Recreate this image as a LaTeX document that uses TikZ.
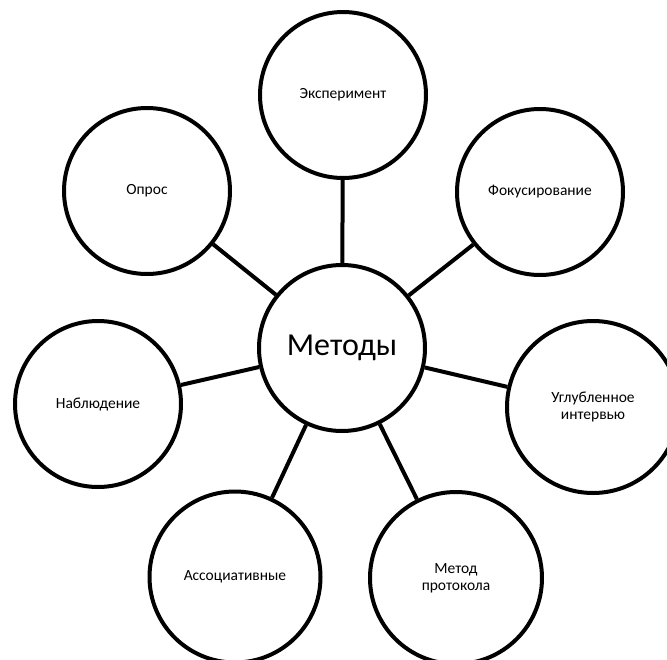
\documentclass[tikz,border=0pt]{standalone}
\usepackage{fontspec}
\setmainfont{Carlito}
\begin{document}
\begin{tikzpicture}[x=1pt,y=-1pt,
  bubble/.style={circle,draw=black,line width=4pt,fill=white,inner sep=0pt,
    minimum size=166pt,align=center,font=\fontsize{15.5}{17}\selectfont},
  link/.style={line width=4pt,draw=black}]
\useasboundingbox (0,0) rectangle (667,659);
\node[bubble,font=\fontsize{32}{36}\selectfont] (M) at (342,348) {Методы};
\node[bubble] (E) at (343,95) {Эксперимент};
\node[bubble] (F) at (540,192) {Фокусирование};
\node[bubble] (O) at (147,191) {Опрос};
\node[bubble] (N) at (98,404) {Наблюдение};
\node[bubble,minimum size=172pt] (U) at (593,407) {Углубленное\\интервью};
\node[bubble,minimum size=171pt] (A) at (235,577) {Ассоциативные};
\node[bubble,minimum size=172pt] (P) at (456,578) {Метод\\протокола};
\draw[link] (M) -- (E);
\draw[link] (M) -- (F);
\draw[link] (M) -- (O);
\draw[link] (M) -- (N);
\draw[link] (M) -- (U);
\draw[link] (M) -- (A);
\draw[link] (M) -- (P);
\end{tikzpicture}
\end{document}
